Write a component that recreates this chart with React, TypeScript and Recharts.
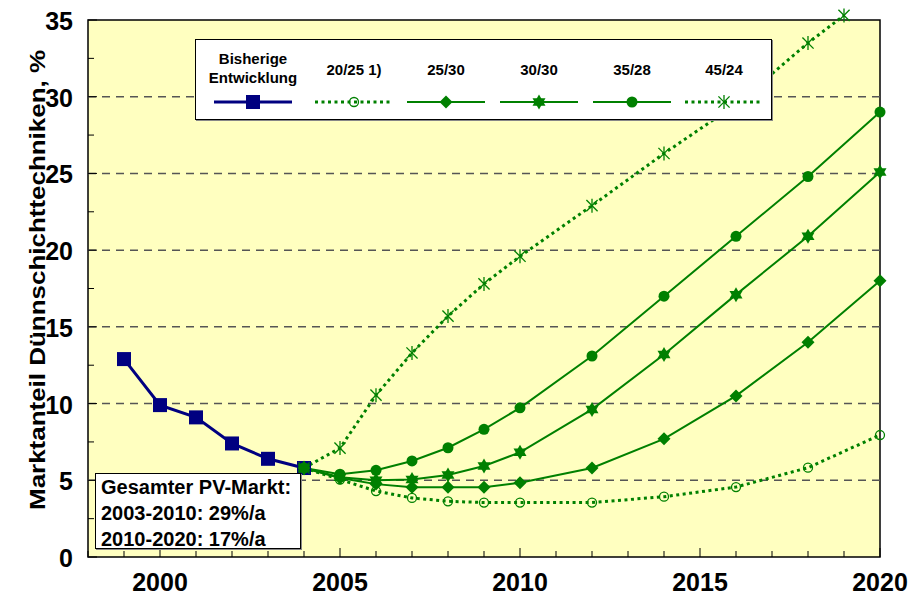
import React from 'react';
import {
  LineChart,
  Line,
  XAxis,
  YAxis,
  ReferenceArea,
  ReferenceLine,
  Legend,
} from 'recharts';

const FONT = "'Liberation Sans', Arial, Helvetica, sans-serif";
const GREEN = '#008000';
const NAVY = '#000080';

// historische Entwicklung
const histYears = [1999, 2000, 2001, 2002, 2003, 2004];
const histShare = [12.9, 9.9, 9.1, 7.4, 6.4, 5.8];

// Szenarien
const scenYears = [2004, 2005, 2006, 2007, 2008, 2009, 2010, 2012, 2014, 2016, 2018, 2020];
const s2025 = [5.8, 5.05, 4.3, 3.85, 3.63, 3.55, 3.55, 3.55, 3.93, 4.56, 5.82, 7.95];
const s2530 = [5.8, 5.15, 4.75, 4.54, 4.54, 4.54, 4.84, 5.8, 7.7, 10.5, 14.0, 18.0];
const s3030 = [5.8, 5.2, 5.0, 5.05, 5.34, 5.93, 6.82, 9.62, 13.2, 17.1, 20.9, 25.1];
const s3528 = [5.8, 5.4, 5.65, 6.26, 7.12, 8.32, 9.72, 13.1, 17.0, 20.9, 24.8, 29.0];
const years4524 = [2004, 2005, 2006, 2007, 2008, 2009, 2010, 2012, 2014, 2016, 2018, 2019];
const s4524 = [5.8, 7.1, 10.55, 13.3, 15.7, 17.8, 19.6, 22.9, 26.3, 29.5, 33.5, 35.3];

const xTicks = [1998, 1999, 2000, 2001, 2002, 2003, 2004, 2005, 2006, 2007, 2008, 2009, 2010,
  2011, 2012, 2013, 2014, 2015, 2016, 2017, 2018, 2019, 2020];
const yTicks = [0, 2.5, 5, 7.5, 10, 12.5, 15, 17.5, 20, 22.5, 25, 27.5, 30, 32.5, 35];
const gridValues = [5, 10, 15, 20, 25, 30];

const legendNames = ['Bisherige\nEntwicklung', '20/25 1)', '25/30', '30/30', '35/28', '45/24'];
const boxLines = ['Gesamter PV-Markt:', '2003-2010: 29%/a', '2010-2020: 17%/a'];

const toRows = (xs: number[], vs: number[]) => xs.map((year, i) => ({ year, v: vs[i] }));

type DotProps = { cx?: number; cy?: number; index?: number };

function squareDot({ cx = 0, cy = 0, index }: DotProps) {
  return <rect key={index} x={cx - 7} y={cy - 7} width={14} height={14} fill={NAVY} />;
}

function openCircleDot({ cx = 0, cy = 0, index }: DotProps) {
  return <circle key={index} cx={cx} cy={cy} r={4.5} fill="none" stroke={GREEN} strokeWidth={1.3} />;
}

function diamondDot({ cx = 0, cy = 0, index }: DotProps) {
  const r = 6.5;
  return (
    <polygon
      key={index}
      points={`${cx},${cy - r} ${cx + r},${cy} ${cx},${cy + r} ${cx - r},${cy}`}
      fill={GREEN}
    />
  );
}

function starDot({ cx = 0, cy = 0, index }: DotProps) {
  const r = 7.5;
  const tri = (start: number) =>
    [0, 120, 240]
      .map((a) => {
        const t = ((start + a) * Math.PI) / 180;
        return `${cx + r * Math.cos(t)},${cy + r * Math.sin(t)}`;
      })
      .join(' ');
  return (
    <g key={index}>
      <polygon points={tri(-90)} fill={GREEN} />
      <polygon points={tri(90)} fill={GREEN} />
    </g>
  );
}

function circleDot({ cx = 0, cy = 0, index }: DotProps) {
  return <circle key={index} cx={cx} cy={cy} r={5.5} fill={GREEN} />;
}

function asteriskDot({ cx = 0, cy = 0, index }: DotProps) {
  const r = 7;
  const d = r * 0.8;
  return (
    <g key={index} stroke={GREEN} strokeWidth={1.3}>
      <line x1={cx} y1={cy - r} x2={cx} y2={cy + r} />
      <line x1={cx - d} y1={cy - d} x2={cx + d} y2={cy + d} />
      <line x1={cx - d} y1={cy + d} x2={cx + d} y2={cy - d} />
    </g>
  );
}

const dotShapes = [squareDot, openCircleDot, diamondDot, starDot, circleDot, asteriskDot];
const dotted = [false, true, false, false, false, true];

function XTick({ x = 0, y = 0, payload }: { x?: number; y?: number; payload?: { value: number } }) {
  const v = payload ? payload.value : 0;
  const major = v % 5 === 0;
  return (
    <g>
      <line x1={x} x2={x} y1={y} y2={y - (major ? 9 : 6)} stroke="#000" strokeWidth={1} />
      {major && (
        <text x={x} y={y + 34} textAnchor="middle" fontSize={25} fontWeight="bold" fontFamily={FONT} fill="#000">
          {v}
        </text>
      )}
    </g>
  );
}

function YTick({ x = 0, y = 0, payload }: { x?: number; y?: number; payload?: { value: number } }) {
  const v = payload ? payload.value : 0;
  const major = v % 5 === 0;
  return (
    <g>
      <line x1={x} x2={x + (major ? 9 : 6)} y1={y} y2={y} stroke="#000" strokeWidth={1} />
      {major && (
        <text x={x - 15} y={y + 10} textAnchor="end" fontSize={25} fontWeight="bold" fontFamily={FONT} fill="#000">
          {v}
        </text>
      )}
    </g>
  );
}

function YTitle() {
  return (
    <text
      x={0}
      y={0}
      transform="translate(45, 280) rotate(-90)"
      textAnchor="middle"
      fontSize={22}
      fontWeight="bold"
      fontFamily={FONT}
      fill="#000"
      textLength={460}
      lengthAdjust="spacingAndGlyphs"
    >
      Marktanteil Dünnschichttechniken, %
    </text>
  );
}

const legendCenters = [57, 158, 250, 343, 436, 528];

function LegendSample({ i }: { i: number }) {
  const Shape = dotShapes[i];
  const color = i === 0 ? NAVY : GREEN;
  return (
    <svg width={80} height={20} style={{ display: 'block' }}>
      <line
        x1={1}
        x2={79}
        y1={10}
        y2={10}
        stroke={color}
        strokeWidth={i === 0 ? 3 : dotted[i] ? 3 : 2}
        strokeDasharray={dotted[i] ? '3 3.5' : undefined}
      />
      {Shape({ cx: 40, cy: 10 })}
    </svg>
  );
}

function LegendBox() {
  return (
    <div
      style={{
        width: 577,
        height: 81,
        background: '#fff',
        border: '1.5px solid #000',
        boxSizing: 'border-box',
        position: 'relative',
        fontFamily: FONT,
        fontWeight: 'bold',
        fontSize: 15,
        color: '#000',
        boxShadow: '1px 1px 0 #888',
      }}
    >
      {legendNames.map((name, i) => {
        const lines = name.split('\n');
        return (
          <div key={name} style={{ position: 'absolute', left: legendCenters[i] - 50, width: 100, top: 0 }}>
            <div
              style={{
                position: 'absolute',
                top: lines.length > 1 ? 9 : 20,
                width: 100,
                textAlign: 'center',
                lineHeight: '19px',
              }}
            >
              {lines.map((l) => (
                <div key={l}>{l}</div>
              ))}
            </div>
            <div style={{ position: 'absolute', top: 52, left: 10 }}>
              <LegendSample i={i} />
            </div>
          </div>
        );
      })}
    </div>
  );
}

export default function App() {
  const series = [
    toRows(histYears, histShare),
    toRows(scenYears, s2025),
    toRows(scenYears, s2530),
    toRows(scenYears, s3030),
    toRows(scenYears, s3528),
    toRows(years4524, s4524),
  ];
  const names = legendNames.map((n) => n.replace('\n', ' '));

  return (
    <div style={{ position: 'absolute', left: 0, top: 0, width: 910, height: 596, background: '#fff' }}>
      <LineChart width={910} height={596} margin={{ top: 15.4, right: 30, bottom: 0, left: 0 }}>
        <XAxis
          dataKey="year"
          type="number"
          domain={[1998, 2020]}
          ticks={xTicks}
          interval={0}
          axisLine={false}
          tickLine={false}
          tickSize={0}
          tickMargin={0}
          height={39}
          tick={<XTick />}
          allowDuplicatedCategory={false}
        />
        <YAxis
          type="number"
          domain={[0, 35.3]}
          ticks={yTicks}
          interval={0}
          axisLine={false}
          tickLine={false}
          tickSize={0}
          tickMargin={0}
          width={88}
          tick={<YTick />}
          label={<YTitle />}
        />
        <ReferenceArea
          x1={1998}
          x2={2020}
          y1={0}
          y2={35}
          fill="#FFFFC0"
          fillOpacity={1}
          stroke="#000"
          strokeWidth={1.5}
        />
        {gridValues.map((g) => (
          <ReferenceLine key={g} y={g} stroke="#555" strokeWidth={1.5} strokeDasharray="8 6" />
        ))}
        {series.map((rows, i) => (
          <Line
            key={i}
            data={rows}
            dataKey="v"
            name={names[i]}
            type="linear"
            stroke={i === 0 ? NAVY : GREEN}
            strokeWidth={i === 0 ? 3 : dotted[i] ? 3 : 2}
            strokeDasharray={dotted[i] ? '3 3.5' : undefined}
            dot={dotShapes[i]}
            activeDot={false}
            isAnimationActive={false}
          />
        ))}
        <Legend
          layout="horizontal"
          verticalAlign="middle"
          align="center"
          wrapperStyle={{ left: 195, top: 39, width: 577, height: 81 }}
          content={() => <LegendBox />}
        />
      </LineChart>
      <div
        style={{
          position: 'absolute',
          left: 95,
          top: 473,
          width: 206,
          height: 76,
          background: '#fff',
          border: '1.5px solid #000',
          boxSizing: 'border-box',
          fontFamily: FONT,
          fontWeight: 'bold',
          fontSize: 20,
          lineHeight: '26px',
          padding: '0 0 0 5px',
          color: '#000',
          boxShadow: '1px 1px 0 #888',
        }}
      >
        {boxLines.map((l) => (
          <div key={l}>{l}</div>
        ))}
      </div>
    </div>
  );
}
